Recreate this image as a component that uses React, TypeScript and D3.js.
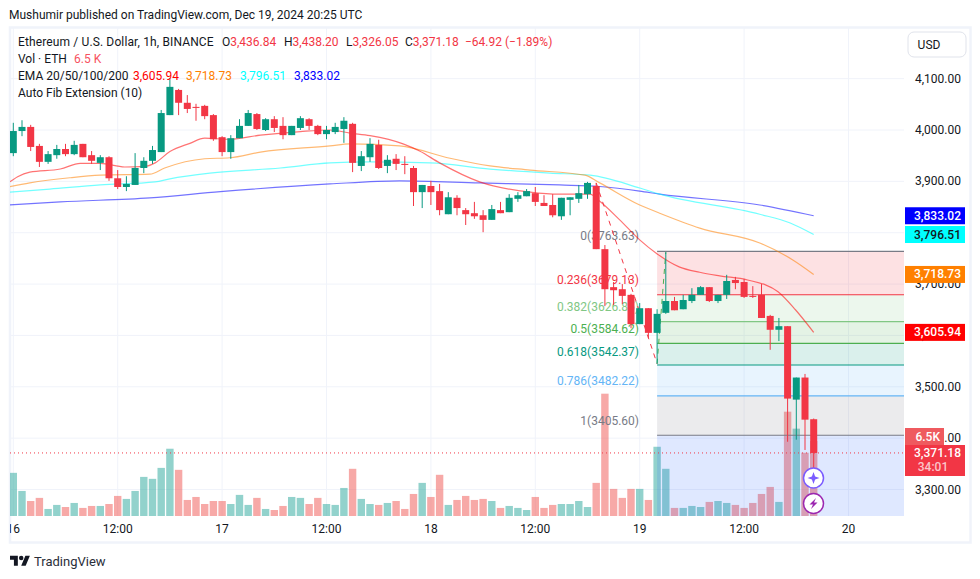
import React from "react";
import * as d3 from "d3";

const opens = [3955,3998,4006,3969,3938,3951,3963,3953,3973,3951,3936,3947,3906,3889,3893,3926,3940,3957,4029,4078,4053,4045,4047,4029,3986,3957,3984,4008,4031,4000,4021,4008,3990,4004,4021,4008,3992,3996,4002,4012,3930,3947,3971,3930,3944,3934,3926,3879,3891,3881,3836,3868,3844,3838,3834,3825,3844,3840,3866,3871,3877,3858,3854,3832,3864,3866,3875,3891,3768,3694,3690,3679,3622,3653,3605,3644,3667,3651,3667,3679,3694,3667,3679,3708,3704,3677,3679,3638,3611,3618,3475,3518,3436.84];
const highs = [4014,4019,4010,3973,3959,3971,3973,3979,3973,3959,3951,3949,3922,3910,3955,3947,3969,4039,4101,4080,4068,4051,4049,4031,3988,3990,4021,4039,4033,4023,4027,4025,4008,4027,4023,4010,4008,4014,4025,4014,3959,3984,3981,3951,3953,3949,3930,3893,3901,3895,3879,3873,3848,3860,3844,3854,3860,3875,3879,3885,3889,3873,3875,3868,3869,3893,3899,3897,3776,3704,3700,3681,3663,3653,3651,3762,3675,3679,3692,3696,3694,3679,3718,3714,3710,3696,3700,3640,3634,3618,3518,3525,3438.2];
const lows = [3949,3988,3959,3928,3934,3944,3949,3951,3947,3934,3922,3901,3885,3881,3893,3916,3934,3957,4029,4029,4033,4018,4021,3979,3949,3944,3984,4008,4000,3998,3996,3982,3990,4000,4000,3990,3982,3992,3975,3918,3920,3938,3924,3916,3922,3914,3852,3848,3854,3834,3836,3834,3815,3827,3801,3825,3838,3840,3860,3871,3852,3852,3830,3825,3834,3858,3866,3768,3657,3659,3661,3614,3622,3595,3545,3642,3649,3651,3663,3679,3665,3663,3671,3690,3673,3673,3634,3572,3589,3393,3397,3377,3326.05];
const closes = [3998,4006,3967,3938,3953,3963,3953,3971,3947,3940,3947,3906,3889,3895,3926,3940,3961,4033,4084,4053,4041,4043,4027,3982,3957,3984,4008,4033,4002,4021,4004,3990,4008,4023,4008,3992,4000,4006,4018,3936,3949,3973,3926,3942,3934,3932,3879,3893,3879,3844,3869,3848,3836,3832,3825,3846,3838,3868,3873,3881,3860,3852,3834,3868,3869,3877,3897,3768,3690,3688,3677,3622,3653,3605,3642,3667,3649,3669,3679,3694,3667,3679,3706,3702,3675,3675,3634,3611,3618,3477,3518,3436,3371.18];
const volumes = [3.74,2.17,1.3,1.57,0.61,0.96,0.78,1.13,0.7,0.87,0.87,1.04,1.74,1.48,2.17,3.39,3.22,4.17,5.83,4.0,1.39,1.65,1.04,1.3,1.3,1.04,1.83,0.96,1.57,0.61,0.52,0.87,1.65,1.57,1.04,1.57,1.04,0.96,2.43,4.09,1.48,1.04,0.96,1.13,1.3,0.61,1.91,2.87,1.65,3.57,0.96,1.39,1.74,1.39,1.48,1.3,0.7,0.87,0.7,0.52,1.65,0.7,0.96,1.04,1.04,1.3,0.78,2.87,10.6,2.35,1.57,2.35,2.35,1.39,6.0,4.09,0.7,0.7,0.87,0.78,1.22,1.3,1.13,0.96,0.7,1.13,1.91,2.52,1.22,9.04,7.57,5.48,6.5];

const ema20Bars = [-0.4,0.5,1.9,5.4,7.7,10,12.8,15.1,16.3,18,20.3,22,24.9,28.4,33,36.4,38.7,41,44.8,46.7,49,53.6,59.4,62.8,66.3,67.2,69.7,72,73.9,76.6,78.9,81.2,84.4,87.9,89.9,92];
const ema20Values = [3899,3909,3918,3924,3935,3935,3928,3929,3936,3958,3974,3984,3982,3990,3997,4000,3994,3989,3973,3959,3936,3899,3879,3875,3875,3864,3825,3786,3760,3733,3723,3716,3708,3685,3650,3605.94];
const ema50Bars = [-0.4,1.9,6.5,10,15.7,17.4,22,24.9,28.4,36.4,38.7,44.4,50.2,54.8,59.4,65.7,67.4,72,74.3,78.9,85.8,89.6,92];
const ema50Values = [3889.6,3897,3907,3912,3914,3926,3944,3946,3957,3969,3973,3969,3945,3930,3922,3912,3897,3854,3838,3809,3780,3747,3718.73];
const ema100Bars = [-0.4,4.2,10,16.3,18,22.6,30.7,36.4,41,47.9,54.8,61.7,66.3,72,74.3,85.8,89.3,92];
const ema100Values = [3879,3885,3893,3899,3905,3916,3926,3936,3938,3936,3924,3916,3912,3887,3875,3836,3819,3796.51];
const ema200Bars = [-0.4,5.4,15.7,23.8,36.4,44.4,53.6,62.8,67.4,72,74.3,85.8,92];
const ema200Values = [3854,3860,3868,3880,3895,3901,3897,3893,3890,3881,3875,3854,3833.02];

const priceTicks = [4100,4000,3900,3800,3700,3600,3500,3400,3300];
const timeTickBars = [0,12,24,36,48,60,72,84,96];
const timeTickLabels = ["16","12:00","17","12:00","18","12:00","19","12:00","20"];

const fibRatios = ["0","0.236","0.382","0.5","0.618","0.786","1"];
const fibPrices = [3763.63,3679.13,3626.85,3584.62,3542.37,3482.22,3405.6];
const fibColors = ["#787b86","#f23645","#81c784","#4caf50","#089981","#64b5f6","#787b86"];
const fibLabelOffsets = [-15,-15,-15,-14,-13,-15,-14];

const RED = "#f23645";
const GREEN = "#089981";
const FONT = "Roboto, sans-serif";
const INK = "#131722";
const fmt = d3.format(",.2f");

const x = d3.scaleLinear().domain([0, 92]).range([13.3, 813.7]);
const y = d3.scaleLinear().domain([3300, 4000]).range([489.5, 130]);
const v = d3.scaleLinear().domain([0, 6.5]).range([516, 441]);

const PANE = { left: 10, right: 904, top: 28, bottom: 516 };

function emaPath(bars: number[], values: number[]) {
  const pts = bars.map((b, i) => [b, values[i]] as [number, number]);
  return d3.line<[number, number]>().x((d) => x(d[0])).y((d) => y(d[1])).curve(d3.curveMonotoneX)(pts) ?? "";
}

const emas = [
  { bars: ema200Bars, values: ema200Values, color: "#0000ff" },
  { bars: ema100Bars, values: ema100Values, color: "#00ffff" },
  { bars: ema50Bars, values: ema50Values, color: "#ff8000" },
  { bars: ema20Bars, values: ema20Values, color: "#ff0000" },
];

const tagRows = [
  { price: 3833.02, bg: "#0000ff", fg: "#ffffff" },
  { price: 3796.51, bg: "#00ffff", fg: "#131722" },
  { price: 3718.73, bg: "#ff8000", fg: "#ffffff" },
  { price: 3605.94, bg: "#ff0000", fg: "#ffffff" },
];

export default function App() {
  const bw = 7;
  const fibLeft = x(74);
  const last = closes[closes.length - 1];
  const fibBottomFill = ["#f23645", "#81c784", "#4caf50", "#089981", "#64b5f6", "#787b86", "#2962ff"];
  const fibYs = fibPrices.map((p) => y(p));
  return (
    <svg width={980} height={579} style={{ position: "absolute", left: 0, top: 0, background: "#fff" }} fontFamily={FONT}>
      <defs>
        <clipPath id="pane"><rect x={PANE.left} y={PANE.top} width={PANE.right - PANE.left} height={PANE.bottom - PANE.top} /></clipPath>
        <clipPath id="timeAxis"><rect x={PANE.left} y={PANE.bottom} width={PANE.right - PANE.left} height={26} /></clipPath>
      </defs>
      <text x={9} y={15} fontSize={12} fill={INK} dominantBaseline="central">Mushumir published on TradingView.com, Dec 19, 2024 20:25 UTC</text>
      <rect x={10} y={27.5} width={960.5} height={515} fill="none" stroke="#f0f3fa" strokeWidth={2.5} />

      <g clipPath="url(#pane)">
        {priceTicks.map((p) => <line key={p} x1={PANE.left} x2={PANE.right} y1={y(p)} y2={y(p)} stroke="#f0f3fa" />)}
        {timeTickBars.map((b) => <line key={b} x1={x(b)} x2={x(b)} y1={PANE.top} y2={PANE.bottom} stroke="#f0f3fa" />)}

        {volumes.map((d, i) => (
          <rect key={i} x={x(i) - 3.7} width={7.4} y={v(d)} height={v(0) - v(d)}
            fill={closes[i] >= opens[i] ? "rgba(38,166,154,0.5)" : "rgba(239,83,80,0.5)"} />
        ))}

        {fibYs.map((fy, i) => {
          const next = i < fibYs.length - 1 ? fibYs[i + 1] : PANE.bottom;
          return <rect key={i} x={fibLeft} y={fy} width={PANE.right - fibLeft} height={next - fy} fill={fibBottomFill[i]} opacity={0.15} />;
        })}
        {fibYs.map((fy, i) => <line key={i} x1={fibLeft} x2={PANE.right} y1={fy} y2={fy} stroke={fibColors[i]} strokeWidth={1.1} />)}
        {fibYs.map((fy, i) => (
          <text key={i} x={639} y={fy + fibLabelOffsets[i]} textAnchor="end" fontSize={12} fill={fibColors[i]} dominantBaseline="central">
            {fibRatios[i]}({fibPrices[i].toFixed(2)})
          </text>
        ))}

        {emas.map((e) => <path key={e.color} d={emaPath(e.bars, e.values)} fill="none" stroke={e.color} strokeOpacity={0.55} strokeWidth={1.2} />)}

        <line x1={x(67)} y1={y(highs[67])} x2={x(74)} y2={y(lows[74])} stroke={RED} strokeWidth={1} strokeDasharray="5 5" />
        <line x1={x(74)} y1={y(lows[74])} x2={x(75)} y2={y(highs[75])} stroke="#4caf50" strokeWidth={1} strokeDasharray="5 5" />

        {opens.map((o, i) => {
          const up = closes[i] >= o;
          const c = up ? GREEN : RED;
          const top = y(Math.max(o, closes[i]));
          const bot = y(Math.min(o, closes[i]));
          return (
            <g key={i}>
              <line x1={x(i)} x2={x(i)} y1={y(highs[i])} y2={y(lows[i])} stroke={c} strokeWidth={1} />
              <rect x={x(i) - bw / 2} width={bw} y={top} height={Math.max(1, bot - top)} fill={c} />
            </g>
          );
        })}

        <line x1={PANE.left} x2={PANE.right} y1={y(last)} y2={y(last)} stroke={RED} strokeWidth={1} strokeDasharray="1 3" />
      </g>

      <g fontSize={12} dominantBaseline="central">
        <text x={18} y={42} fill={INK} letterSpacing={0.13}>Ethereum / U.S. Dollar, 1h, BINANCE</text>
        <text y={42} x={222} fill={INK}>O<tspan fill={RED}>3,436.84</tspan></text>
        <text y={42} x={284} fill={INK}>H<tspan fill={RED}>3,438.20</tspan></text>
        <text y={42} x={346} fill={INK}>L<tspan fill={RED}>3,326.05</tspan></text>
        <text y={42} x={405} fill={INK}>C<tspan fill={RED}>3,371.18</tspan></text>
        <text y={42} x={465} fill={RED}>−64.92 (−1.89%)</text>
        <text x={18} y={59} fill={INK}>Vol · ETH</text>
        <text x={74} y={59} fill="#f7525f">6.5 K</text>
        <text x={18} y={76} fill={INK}>EMA 20/50/100/200</text>
        <text x={133} y={76} fill="#ff0000">3,605.94</text>
        <text x={186} y={76} fill="#ff8000">3,718.73</text>
        <text x={240} y={76} fill="#00ffff">3,796.51</text>
        <text x={294} y={76} fill="#0000ff">3,833.02</text>
        <text x={18} y={93} fill={INK}>Auto Fib Extension (10)</text>
      </g>

      <g clipPath="url(#timeAxis)">
        {timeTickBars.map((b, i) => (
          <text key={b} x={x(b)} y={529} textAnchor="middle" fontSize={12} fill={INK} dominantBaseline="central">{timeTickLabels[i]}</text>
        ))}
      </g>

      {priceTicks.map((p) => (
        <text key={p} x={961} y={y(p)} textAnchor="end" fontSize={12} fill={INK} dominantBaseline="central">{fmt(p)}</text>
      ))}

      <rect x={908} y={32} width={58} height={25} rx={6} fill="#fff" stroke="#e0e3eb" />
      <text x={929} y={44.5} textAnchor="middle" fontSize={12} fill={INK} dominantBaseline="central">USD</text>

      {tagRows.map((t) => (
        <g key={t.price}>
          <rect x={905} y={y(t.price) - 8.5} width={60} height={17} fill={t.bg} />
          <text x={961} y={y(t.price)} textAnchor="end" fontSize={12} fontWeight={500} fill={t.fg} dominantBaseline="central">{fmt(t.price)}</text>
        </g>
      ))}
      <rect x={905} y={445} width={60} height={31} fill={RED} />
      <text x={961} y={453} textAnchor="end" fontSize={12} fontWeight={500} fill="#fff" dominantBaseline="central">{fmt(last)}</text>
      <text x={933} y={467} textAnchor="middle" fontSize={12} fontWeight={500} fill="#fbc5ca" dominantBaseline="central">34:01</text>
      <rect x={905} y={428} width={39} height={17} fill="#ef5a5f" />
      <text x={940} y={436.5} textAnchor="end" fontSize={12} fontWeight={500} fill="#fff" dominantBaseline="central">6.5K</text>

      <g>
        <circle cx={813.5} cy={478} r={10} fill="#fff" stroke="#7b5cff" strokeWidth={1.5} />
        <path transform="translate(813.5 478)" d="M0 -6 L1.6 -1.6 L6 0 L1.6 1.6 L0 6 L-1.6 1.6 L-6 0 L-1.6 -1.6 Z" fill="#7b5cff" />
        <circle cx={813.5} cy={503.5} r={10} fill="#fff" stroke="#9c27b0" strokeWidth={1.5} />
        <path transform="translate(813.5 503.5)" d="M2.5 -5.5 L-4 1 L-0.5 1 L-2.5 5.5 L4 -1 L0.5 -1 Z" fill="#9c27b0" />
      </g>

      <g transform="translate(10 553.5) scale(0.56)" fill="#131722">
        <path d="M14 22H7V11H0V4h14v18zM28 22h-8l7.5-18h8L28 22z" />
        <circle cx={20} cy={8} r={4} />
      </g>
      <text x={34} y={561} fontSize={13} fill="#2a2e39" dominantBaseline="central">TradingView</text>
    </svg>
  );
}
